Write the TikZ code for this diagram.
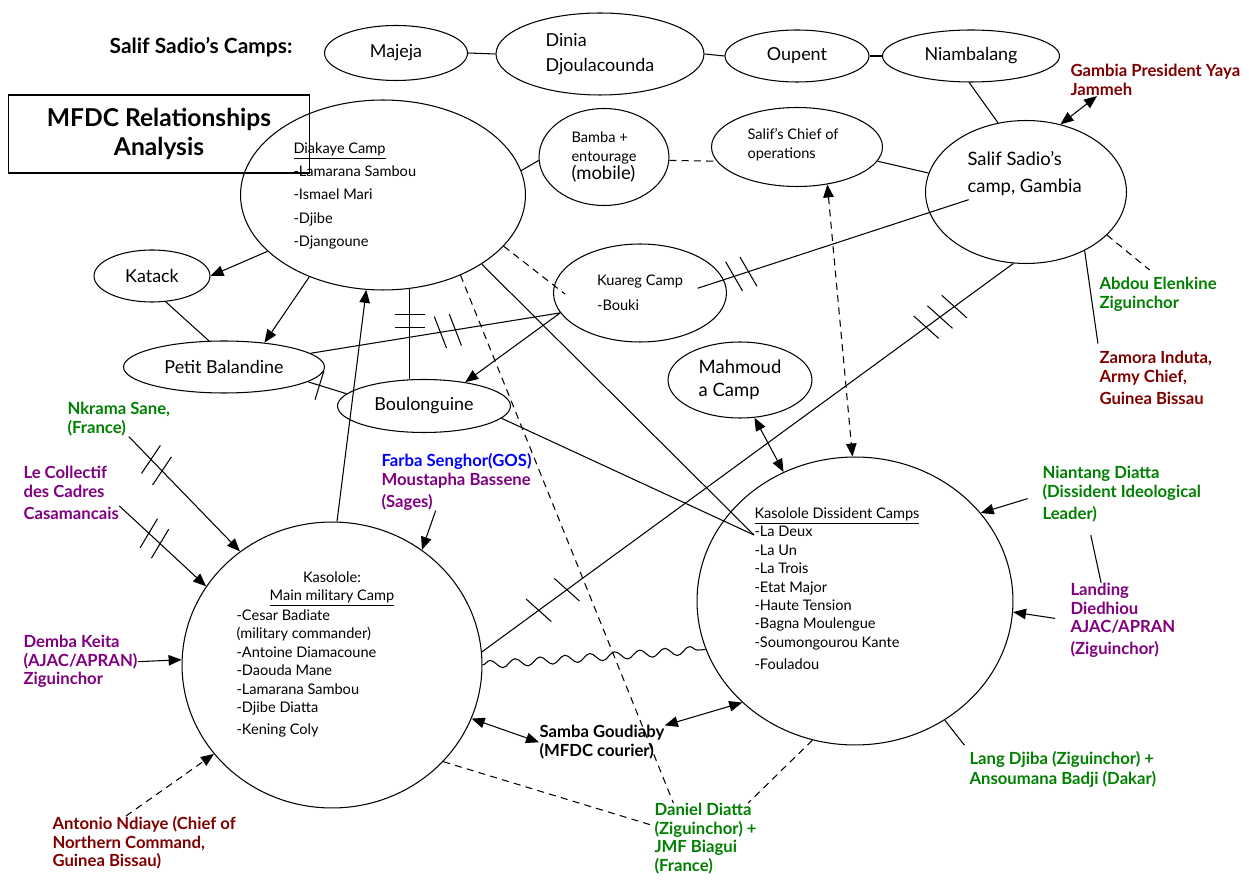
\documentclass[tikz,border=0pt]{standalone}
\usepackage{fontspec}
\setmainfont{Lato}
\usetikzlibrary{arrows.meta, shapes.geometric, decorations.markings, decorations.pathmorphing}

\definecolor{mfdcred}{RGB}{128,0,0}
\definecolor{mfdcgreen}{RGB}{0,128,0}
\definecolor{mfdcpurple}{RGB}{128,0,128}
\definecolor{mfdcblue}{RGB}{0,0,255}

\begin{document}
\begin{tikzpicture}[
        x=0.02cm, y=-0.02cm,
        line width=0.6pt,
        oval/.style={ellipse, draw, inner sep=0pt, font=\fontsize{10.2}{14}\selectfont},
        txt/.style={anchor=north west, inner sep=0pt, align=left,
                    font=\fontsize{8.3}{10.5}\selectfont},
        who/.style={anchor=north west, inner sep=0pt, align=left,
                    font=\fontsize{9.5}{10.5}\selectfont\bfseries},
        arr/.style={-{Triangle[length=2.6mm, width=2.1mm]}},
        darr/.style={{Triangle[length=2.6mm, width=2.1mm]}-{Triangle[length=2.6mm, width=2.1mm]}},
        dashln/.style={dash pattern=on 4pt off 3pt},
        cut/.style={postaction={decorate, decoration={markings,
                    mark=at position #1 with {\draw[-, solid, shorten <=0pt, shorten >=0pt]
                        (-0.07cm,0.33cm) -- (0.07cm,-0.33cm);}}}},
        pcut/.style={postaction={decorate, decoration={markings,
                    mark=at position #1 with {\draw[-, solid] (0,0.3cm) -- (0,-0.3cm);}}}},
    ]
    \useasboundingbox (0,0) rectangle (1249,888);

    % Salif Sadio's camps along the top
    \node[font=\fontsize{11.9}{14}\selectfont\bfseries] (camps) at (201,47) {Salif Sadio’s Camps:};
    \node[oval, minimum width=2.86cm, minimum height=1.10cm] (majeja) at (396,53) {Majeja};
    \node[oval, minimum width=4.16cm, minimum height=1.64cm, align=left] (dinia) at (600,54) {Dinia\\Djoulacounda};
    \node[oval, minimum width=2.88cm, minimum height=1.04cm] (oupent) at (797,56) {Oupent};
    \node[oval, minimum width=3.54cm, minimum height=1.04cm] (niamb) at (971,56) {Niambalang};

    \node[draw, minimum width=6.04cm, minimum height=1.56cm, align=center,
          font=\fontsize{14}{16.5}\selectfont\bfseries] (title) at (159,134) {MFDC Relationships\\Analysis};

    % camps
    \node[oval, minimum width=5.70cm, minimum height=3.80cm] (diakaye) at (383,195) {};
    \node[txt, font=\fontsize{8.3}{13.3}\selectfont] (diakayetxt) at (293,142)
        {\underline{Diakaye Camp}\\-Lamarana Sambou\\-Ismael Mari\\-Djibe\\-Djangoune};
    \node[oval, minimum width=2.60cm, minimum height=1.94cm, align=left,
          font=\fontsize{8.3}{10.5}\selectfont] (bamba) at (604,157)
        {Bamba +\\entourage\\{\fontsize{10.5}{12}\selectfont (mobile)}};
    \node[oval, minimum width=3.42cm, minimum height=1.58cm] (chief) at (797,147) {};
    \node[txt] (chieftxt) at (747,128) {Salif’s Chief of\\operations};
    \node[oval, minimum width=4.02cm, minimum height=2.86cm] (salif) at (1026,192) {};
    \node[txt, font=\fontsize{10.5}{15.5}\selectfont] (saliftxt) at (967,151) {Salif Sadio’s\\camp, Gambia};
    \node[oval, minimum width=3.46cm, minimum height=1.96cm, align=left,
          font=\fontsize{8.3}{14}\selectfont] (kuareg) at (640,293) {Kuareg Camp\\-Bouki};
    \node[oval, minimum width=2.88cm, minimum height=1.52cm, align=left,
          font=\fontsize{10.5}{13}\selectfont] (mahmoud) at (740,380) {Mahmoud\\a Camp};
    \node[oval, minimum width=2.32cm, minimum height=1.04cm] (katack) at (152,276) {Katack};
    \node[oval, minimum width=4.02cm, minimum height=1.04cm] (petit) at (224,367) {Petit Balandine};
    \node[oval, minimum width=3.46cm, minimum height=1.06cm] (boulon) at (424,406) {Boulonguine};

    \node[oval, minimum width=6.00cm, minimum height=5.72cm] (kasmain) at (332,665) {};
    \node[txt, anchor=north, align=center] (kasmainhead) at (332,571) {Kasolole:\\\underline{Main military Camp}};
    \node[txt] (kasmaintxt) at (236,609)
        {-Cesar Badiate\\(military commander)\\-Antoine Diamacoune\\-Daouda Mane\\-Lamarana Sambou\\-Djibe Diatta\\[2pt]-Kening Coly};
    \node[oval, minimum width=6.32cm, minimum height=5.76cm] (kasdiss) at (855,601) {};
    \node[txt] (kasdisstxt) at (754,507)
        {\underline{Kasolole Dissident Camps}\\-La Deux\\-La Un\\-La Trois\\-Etat Major\\-Haute Tension\\-Bagna Moulengue\\-Soumongourou Kante\\[2pt]-Fouladou};
    \coordinate (ladeux) at ([yshift=-0.56cm]kasdisstxt.north west);

    % people
    \node[who, mfdcred] (yaya) at (1070,64) {Gambia President Yaya\\Jammeh};
    \node[who, mfdcgreen] (abdou) at (1099,277) {Abdou Elenkine\\Ziguinchor};
    \node[who, mfdcred] (zamora) at (1099,351) {Zamora Induta,\\Army Chief,\\[2pt]Guinea Bissau};
    \node[who, mfdcgreen] (niantang) at (1042,466) {Niantang Diatta\\(Dissident Ideological\\[2pt]Leader)};
    \node[who, mfdcpurple] (landing) at (1070,583) {Landing\\Diedhiou\\AJAC/APRAN\\[2pt](Ziguinchor)};
    \node[who, mfdcgreen] (lang) at (969,751) {Lang Djiba (Ziguinchor) +\\[1pt]Ansoumana Badji (Dakar)};
    \node[who, mfdcgreen] (daniel) at (654,803) {Daniel Diatta\\(Ziguinchor) +\\JMF Biagui\\(France)};
    \node[who] (samba) at (539,725) {Samba Goudiaby\\(MFDC courier)};
    \node[who, mfdcpurple] (farba) at (381,453) {\textcolor{mfdcblue}{Farba Senghor(GOS)}\\Moustapha Bassene\\[2pt](Sages)};
    \node[who, mfdcgreen] (nkrama) at (67,402) {Nkrama Sane,\\(France)};
    \node[who, mfdcpurple] (collectif) at (23,466) {Le Collectif\\des Cadres\\[2pt]Casamancais};
    \node[who, mfdcpurple] (demba) at (23,635) {Demba Keita\\(AJAC/APRAN)\\Ziguinchor};
    \node[who, mfdcred] (antonio) at (52,816) {Antonio Ndiaye (Chief of\\Northern Command,\\Guinea Bissau)};

    % links
    \draw (majeja.east) -- (dinia.west);
    \draw (dinia.east) -- (oupent.west);
    \draw (oupent.east) -- (niamb.west);
    \draw (niamb.266) -- (salif.112);
    \draw[darr] (salif.63) -- ([xshift=0.54cm]yaya.south west);
    \draw (chief.-10) -- (salif.169);
    \draw[dashln] (bamba.-3) -- (chief.190);
    \draw (diakaye.10) -- (bamba.183);
    \draw[darr, dashln] (chief.-51) -- (kasdiss.91);
    \draw[arr] (diakaye.206) -- (katack.east);
    \draw (katack.-62) -- (petit.120);
    \draw[arr] (diakaye.228) -- (petit.31);
    \draw[cut=0.52, cut=0.58] (petit.9) -- (kuareg.194);
    \draw[arr] (kuareg.194) -- (boulon.30);
    \draw[pcut=0.29, pcut=0.43] (diakaye.-74) -- (diakaye.-74 |- boulon.north);
    \draw[pcut=0.3] (petit.-10) -- (boulon.171);
    \draw[arr] (kasmain.88) -- (diakaye.260);
    \draw[dashln, shorten >=-0.28cm] (diakaye.-23) -- (kuareg.175);
    \draw (diakaye.-35) -- (ladeux);
    \draw (boulon.-9) -- (ladeux);
    \draw[cut=0.05, cut=0.12, shorten <=-0.55cm, shorten >=-0.83cm] (kuareg.9) -- (salif.192);
    \draw[cut=0.107, cut=0.16, cut=0.836, cut=0.862, cut=0.889] (kasmain.5) -- (salif.260);
    \draw[dashln, shorten >=0.22cm] (salif.-28) -- (abdou.north);
    \draw[shorten >=0.15cm] (salif.-45) -- (zamora.north west);
    \draw[darr] (kasmain.-21) -- (samba.west);
    \draw[darr] (samba.15) -- (kasdiss.222);
    \draw[decorate, decoration={snake, amplitude=0.8mm, segment length=5mm}] (kasmain.east) -- (kasdiss.198);
    \draw[dashln] (kasmain.-41) -- (daniel.166);
    \draw[dashln] (diakaye.-46) -- (daniel.132);
    \draw[dashln] (kasdiss.253) -- (daniel.40);
    \draw[darr] (mahmoud.-69) -- (kasdiss.119);
    \draw[arr, shorten <=0.3cm] (niantang.west) -- (kasdiss.35);
    \draw[shorten <=0.26cm] (niantang.-140) -- (landing.120);
    \draw[arr, shorten <=0.3cm] (landing.west) -- (kasdiss.-4);
    \draw[shorten >=0.15cm] (kasdiss.-53) -- (lang.north west);
    \draw[arr, cut=0.2, cut=0.3] (nkrama.-60) -- (kasmain.129);
    \draw[arr, cut=0.34, cut=0.47] (collectif.-15) -- (kasmain.148);
    \draw[arr] (demba.east) -- (kasmain.178);
    \draw[arr] (farba.-126) -- (kasmain.52);
    \draw[arr, dashln] (antonio.124) -- (kasmain.217);
\end{tikzpicture}
\end{document}
